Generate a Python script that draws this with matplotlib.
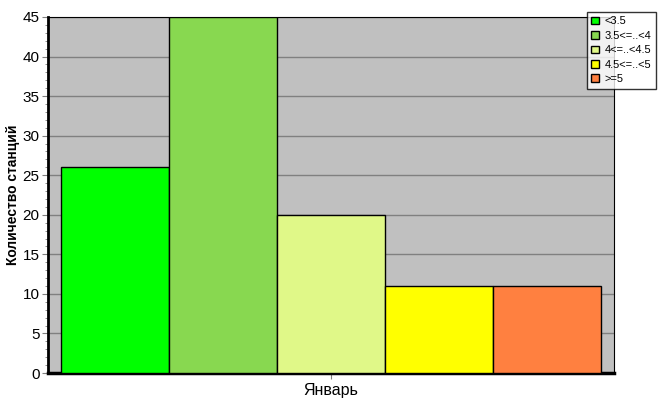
import matplotlib
matplotlib.use('Agg')
import matplotlib.pyplot as plt
from matplotlib.patches import Patch
from matplotlib.ticker import MultipleLocator

plt.rcParams['font.family'] = ['Liberation Sans', 'DejaVu Sans']

# data
classes = ['<3.5', '3.5<=..<4', '4<=..<4.5', '4.5<=..<5', '>=5']
counts = [26, 45, 20, 11, 11]
colors = ['#00ff00', '#88d850', '#e0f888', '#ffff00', '#ff8040']
month = 'Январь'

fig = plt.figure(figsize=(6.67, 4.15), dpi=100)
ax = fig.add_axes([48/667, 42/415, 566/667, 356/415])
ax.set_facecolor('#c0c0c0')

pos = list(range(len(counts)))
ax.bar(pos, counts, width=1.0, color=colors, edgecolor='black', linewidth=1.0, zorder=3)

ax.set_xlim(-0.625, 4.625)
ax.set_ylim(0, 45)
ax.set_xticks([2])
ax.set_xticklabels([month], fontsize=11.5)
ax.yaxis.set_major_locator(MultipleLocator(5))
ax.yaxis.set_minor_locator(MultipleLocator(1))
ax.tick_params(axis='y', labelsize=11, length=4, color='#808080', pad=2)
ax.tick_params(axis='y', which='minor', length=2, color='#808080')
ax.tick_params(axis='x', length=4, color='#808080')
ax.grid(axis='y', color='#808080', linewidth=1.0, zorder=1)

ax.spines['left'].set_linewidth(2)
ax.spines['bottom'].set_linewidth(2.5)
ax.spines['top'].set_linewidth(0.8)
ax.spines['right'].set_linewidth(0.8)

ax.set_ylabel('Количество станций', fontsize=10, fontweight='bold', labelpad=2)

handles = [Patch(facecolor=c, edgecolor='black', label=l) for c, l in zip(colors, classes)]
leg = fig.legend(handles=handles, loc='upper left', bbox_to_anchor=(587/667, 1 - 12/415),
                 fontsize=8, frameon=True, fancybox=False, edgecolor='black',
                 handlelength=0.7, handleheight=0.7, handletextpad=0.5,
                 labelspacing=0.4, borderpad=0.4, borderaxespad=0)
leg.get_frame().set_linewidth(1.0)

fig.savefig('out.png', dpi=100, facecolor='white')
